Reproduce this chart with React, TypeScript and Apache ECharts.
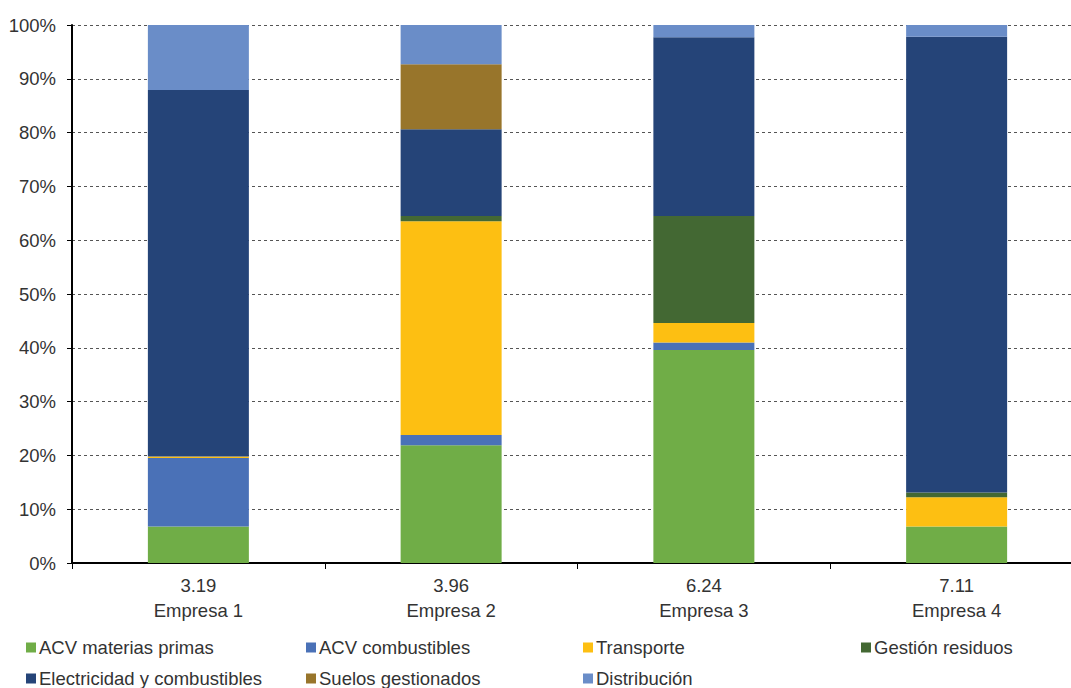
import React, { useEffect, useRef } from "react";
import * as echarts from "echarts";

const companies = ["Empresa 1", "Empresa 2", "Empresa 3", "Empresa 4"];
const totals = ["3.19", "3.96", "6.24", "7.11"];
const yTicks = [0, 10, 20, 30, 40, 50, 60, 70, 80, 90, 100];

const seriesNames = [
  "ACV materias primas",
  "ACV combustibles",
  "Transporte",
  "Gestión residuos",
  "Electricidad y combustibles",
  "Suelos gestionados",
  "Distribución",
];
const acvMaterias = [6.8, 21.9, 39.6, 6.8];
const acvCombustibles = [12.7, 1.9, 1.4, 0];
const transporte = [0.3, 39.7, 3.6, 5.4];
const gestionResiduos = [0, 1.0, 19.9, 0.9];
const electricidad = [68.1, 16.1, 33.2, 84.7];
const suelos = [0, 12.1, 0, 0];
const distribucion = [12.1, 7.3, 2.3, 2.2];

const seriesValues = [acvMaterias, acvCombustibles, transporte, gestionResiduos, electricidad, suelos, distribucion];
const colors = ["#70AD47", "#4A71B7", "#FDBF12", "#436833", "#254478", "#98752B", "#6A8DC8"];

// legend placement (column x, row y)
const legendPos = [
  [26, 638],
  [306, 638],
  [583, 638],
  [861, 638],
  [26, 669],
  [306, 669],
  [583, 669],
];

const FONT = "'Liberation Sans', Arial, sans-serif";

export default function App() {
  const ref = useRef<HTMLDivElement>(null);
  useEffect(() => {
    if (!ref.current) return;
    const chart = echarts.init(ref.current, null, { renderer: "svg" });
    const categories = companies.map((c, i) => `${totals[i]}\n${c}`);
    chart.setOption({
      animation: false,
      backgroundColor: "#ffffff",
      textStyle: { fontFamily: FONT },
      grid: { left: 72, top: 25, width: 1011, bottom: 125, containLabel: false, outerBoundsMode: "none" },
      legend: seriesNames.map((name, i) => ({
        data: [name],
        left: legendPos[i][0],
        top: legendPos[i][1],
        padding: 0,
        itemWidth: 10,
        itemHeight: 10,
        icon: "rect",
        selectedMode: false,
        textStyle: { fontSize: 18.5, color: "#333333", fontFamily: FONT, lineHeight: 18, padding: [0, 0, 0, -2] },
      })),
      xAxis: {
        type: "category",
        data: categories,
        axisLine: { show: true, lineStyle: { color: "#000000", width: 2 } },
        axisTick: { show: true, length: 6, lineStyle: { color: "#000000", width: 1 } },
        axisLabel: { fontSize: 18.5, color: "#333333", lineHeight: 25, margin: 10, fontFamily: FONT },
        splitLine: { show: false },
      },
      yAxis: {
        type: "value",
        min: yTicks[0],
        max: yTicks[yTicks.length - 1],
        interval: 10,
        axisLine: { show: true, lineStyle: { color: "#000000", width: 2 } },
        axisTick: { show: true, length: 5, lineStyle: { color: "#000000", width: 1 } },
        axisLabel: { fontSize: 18.5, color: "#333333", formatter: "{value}%", margin: 16, fontFamily: FONT },
        splitLine: { show: true, lineStyle: { color: "#555555", width: 1, type: [3, 3] } },
      },
      series: seriesNames.map((name, i) => ({
        name,
        type: "bar",
        stack: "total",
        barWidth: 101,
        data: seriesValues[i],
        itemStyle: { color: colors[i] },
      })),
    });
    return () => chart.dispose();
  }, []);
  return (
    <div
      ref={ref}
      style={{ position: "absolute", left: 0, top: 0, width: 1071, height: 688 }}
    />
  );
}
